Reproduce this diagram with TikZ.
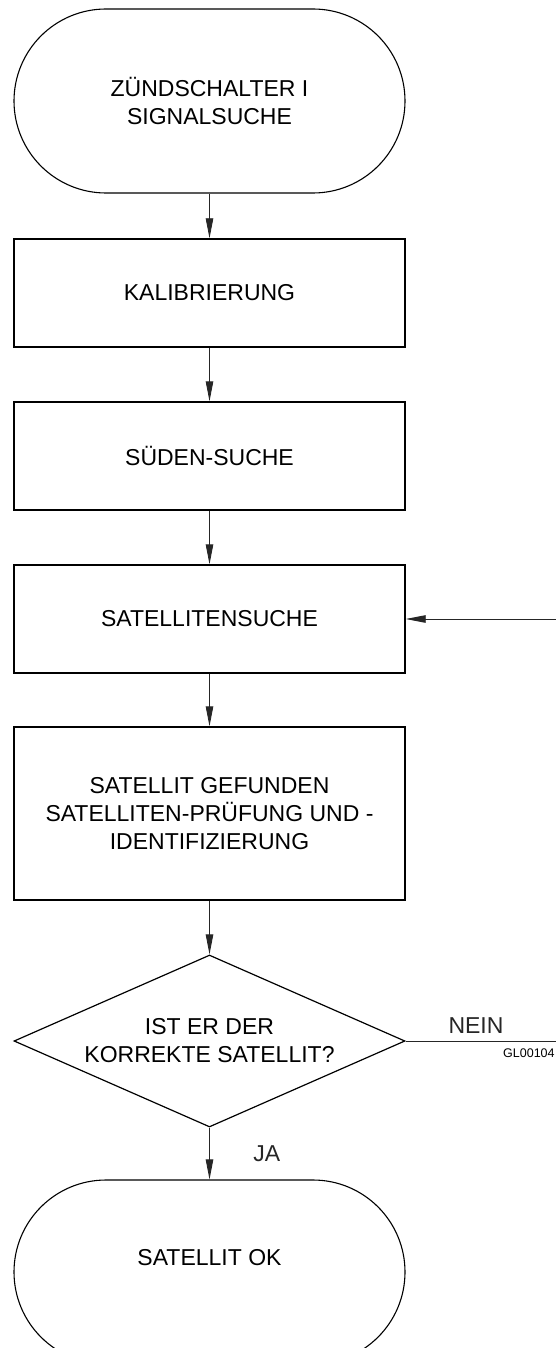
\documentclass[tikz,border=0pt]{standalone}
\usepackage{fontspec}
\setmainfont{Liberation Sans}
\usetikzlibrary{arrows.meta, shapes.geometric}

\begin{document}
\begin{tikzpicture}[x=1pt, y=-1pt,
                every node/.style={font=\fontsize{23}{28}\selectfont},
                term/.style={draw, line width=1.1pt, rounded corners=92pt,
                             minimum width=391pt, minimum height=184pt, align=center},
                box/.style={draw, line width=1.4pt, minimum width=391pt,
                            minimum height=108pt, align=center},
                decide/.style={draw, diamond, aspect=2.27, line width=1.2pt, inner sep=0pt,
                               minimum width=391pt, minimum height=172pt, align=center},
                flow/.style={-{Triangle[length=20pt, width=7.5pt]}, line width=0.9pt, black!85}]
                \useasboundingbox (0,0) rectangle (555,1348);

                \node[term] (start) at (209.5,101) {ZÜNDSCHALTER I\\SIGNALSUCHE};
                \node[box] (calib) at (209.5,293) {KALIBRIERUNG};
                \node[box] (south) at (209.5,456) {SÜDEN-SUCHE};
                \node[box] (search) at (209.5,619) {SATELLITENSUCHE};
                \node[box, minimum height=173pt] (found) at (209.5,813.5)
                      {SATELLIT GEFUNDEN\\SATELLITEN-PRÜFUNG UND -\\IDENTIFIZIERUNG};
                \node[decide] (check) at (209.5,1041) {IST ER DER\\KORREKTE SATELLIT?};
                \node[term, text depth=30pt] (ok) at (209.5,1272) {SATELLIT OK};

                \draw[flow] (start) -- (calib);
                \draw[flow] (calib) -- (south);
                \draw[flow] (south) -- (search);
                \draw[flow] (search) -- (found);
                \draw[flow] (found) -- (check);
                \draw[flow] (check) -- node[right=40pt, pos=0.5] (yes) {JA} (ok);

                \coordinate (backlow) at (562,1041);
                \coordinate (backhigh) at (562,619);
                \draw[flow] (check.east) -- node[above=4pt, pos=0.45] (no) {NEIN}
                      (backlow) -- (backhigh) -- (search.east);

                \node[font=\fontsize{12.5}{14}\selectfont, anchor=north west, inner sep=0pt]
                      (tag) at (503,1049) {GL00104};
            \end{tikzpicture}
\end{document}
